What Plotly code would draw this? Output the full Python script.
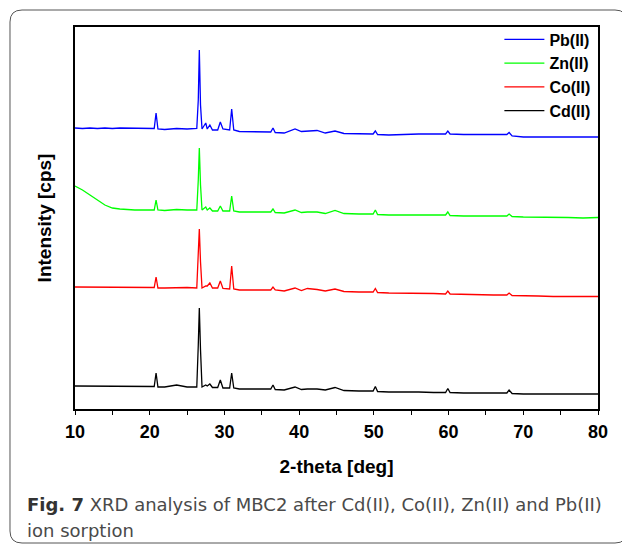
import plotly.graph_objects as go

# 2-theta sampling points (deg)
theta = [10, 11, 12, 13, 14, 15, 16, 18, 20, 20.6, 20.85, 21.1, 22, 23.6, 25,
         26.3, 26.5, 26.64, 26.8, 27.0, 27.5, 27.7, 28.05, 28.4, 29.1, 29.45,
         29.8, 30.7, 30.97, 31.25, 32, 34, 36.2, 36.5, 36.8, 38, 39.45, 40.3,
         41.1, 42.4, 43.5, 44.8, 46, 48, 49.9, 50.2, 50.5, 52, 54.8, 56, 58,
         59.6, 59.9, 60.2, 62, 64, 66, 67.8, 68.1, 68.5, 70, 72, 74, 76, 78, 80]

# intensities (cps, stacked with offsets as in the figure)
pb = [2810, 2805, 2810, 2805, 2810, 2805, 2810, 2805, 2800, 2805, 2960, 2800,
      2795, 2805, 2800, 2805, 3090, 3590, 3040, 2800, 2860, 2800, 2840, 2790,
      2790, 2870, 2800, 2790, 3000, 2790, 2775, 2770, 2770, 2810, 2765, 2760,
      2800, 2775, 2780, 2785, 2760, 2780, 2755, 2750, 2750, 2780, 2745, 2740,
      2750, 2750, 2750, 2750, 2780, 2750, 2745, 2745, 2745, 2745, 2765, 2730,
      2720, 2720, 2720, 2725, 2720, 2720]
zn = [2230, 2190, 2140, 2090, 2040, 2010, 2000, 1990, 1990, 1990, 2090, 1990,
      1985, 1995, 1990, 1990, 2290, 2610, 2240, 1990, 2020, 1990, 2010, 1980,
      1980, 2030, 1980, 1980, 2130, 1980, 1970, 1970, 1970, 2000, 1965, 1960,
      1990, 1965, 1970, 1970, 1955, 1985, 1955, 1950, 1950, 1990, 1945, 1940,
      1945, 1940, 1940, 1940, 1970, 1935, 1930, 1930, 1930, 1930, 1950, 1925,
      1920, 1920, 1915, 1915, 1910, 1915]
co = [1220, 1220, 1215, 1220, 1220, 1215, 1220, 1220, 1215, 1215, 1320, 1210,
      1210, 1215, 1215, 1210, 1490, 1800, 1470, 1210, 1230, 1230, 1260, 1210,
      1210, 1280, 1205, 1200, 1430, 1200, 1190, 1190, 1190, 1220, 1190, 1180,
      1210, 1185, 1205, 1195, 1180, 1200, 1175, 1170, 1170, 1205, 1165, 1160,
      1160, 1155, 1155, 1150, 1180, 1150, 1145, 1140, 1140, 1140, 1160, 1135,
      1130, 1130, 1125, 1125, 1120, 1125]
cd = [230, 230, 225, 230, 230, 225, 230, 230, 225, 225, 360, 220,
      220, 240, 220, 220, 640, 1010, 590, 220, 240, 230, 250, 215,
      215, 290, 210, 210, 360, 210, 200, 200, 200, 240, 195, 190,
      220, 195, 200, 200, 190, 215, 185, 180, 180, 225, 175, 170,
      175, 170, 165, 165, 205, 165, 160, 160, 160, 160, 190, 155,
      150, 150, 150, 150, 145, 150]

series = [("Pb(II)", pb, "#0000ff"), ("Zn(II)", zn, "#00ff00"),
          ("Co(II)", co, "#ff0000"), ("Cd(II)", cd, "#000000")]

fig = go.Figure()
for name, vals, col in series:
    fig.add_trace(go.Scatter(x=theta, y=vals, mode="lines", name=name,
                             line=dict(color=col, width=1.3)))

# rounded frame around figure + caption (paper coords)
x0, x1, y0, y1 = -0.1243, 1.0555, -0.3508, 1.0445
rx, ry = 0.023, 0.0314
frame = (f"M{x0+rx},{y1} L{x1-rx},{y1} Q{x1},{y1} {x1},{y1-ry} "
         f"L{x1},{y0+ry} Q{x1},{y0} {x1-rx},{y0} L{x0+rx},{y0} "
         f"Q{x0},{y0} {x0},{y0+ry} L{x0},{y1-ry} Q{x0},{y1} {x0+rx},{y1} Z")

cap_font = dict(family="DejaVu Sans", size=18, color="#4a4a4a")

fig.update_layout(
    width=622, height=538,
    margin=dict(l=67, r=32, t=19, b=137),
    paper_bgcolor="white", plot_bgcolor="white",
    font=dict(family="Arial", color="black"),
    showlegend=True,
    legend=dict(x=0.995, y=1.012, xanchor="right", yanchor="top",
                bgcolor="rgba(0,0,0,0)", traceorder="normal",
                font=dict(family="Arial", size=16, color="black", weight="bold"),
                itemwidth=40, tracegroupgap=0),
    xaxis=dict(range=[10, 80], dtick=10, showgrid=False, zeroline=False,
               showline=True, linecolor="black", linewidth=1.5, mirror=True,
               ticks="outside", ticklen=4, tickwidth=1.2, tickcolor="black",
               ticklabelstandoff=2,
               minor=dict(dtick=5, ticks="outside", ticklen=4, tickwidth=1.2,
                          tickcolor="black"),
               tickfont=dict(family="Arial", size=18, color="black", weight="bold"),
               title=dict(text="<b>2-theta [deg]</b>", standoff=18,
                          font=dict(family="Arial", size=19)),
               automargin=False),
    yaxis=dict(range=[0, 3820], showgrid=False, zeroline=False,
               showticklabels=False, ticks="",
               showline=True, linecolor="black", linewidth=1.5, mirror=True,
               title=dict(text="<b>Intensity [cps]</b>", standoff=17,
                          font=dict(family="Arial", size=19)),
               automargin=False),
    shapes=[dict(type="path", xref="paper", yref="paper", path=frame,
                 line=dict(color="#555555", width=1), layer="below")],
    annotations=[
        dict(xref="paper", yref="paper", x=-0.0956, y=-0.2513,
             xanchor="left", yanchor="middle", showarrow=False,
             text="<b><span style='color:#333333'>Fig. 7</span></b> XRD analysis of MBC2 after Cd(II), Co(II), Zn(II) and Pb(II)",
             font=cap_font),
        dict(xref="paper", yref="paper", x=-0.0956, y=-0.3168,
             xanchor="left", yanchor="middle", showarrow=False,
             text="ion sorption", font=cap_font),
    ],
)

fig.write_html("out.html")
